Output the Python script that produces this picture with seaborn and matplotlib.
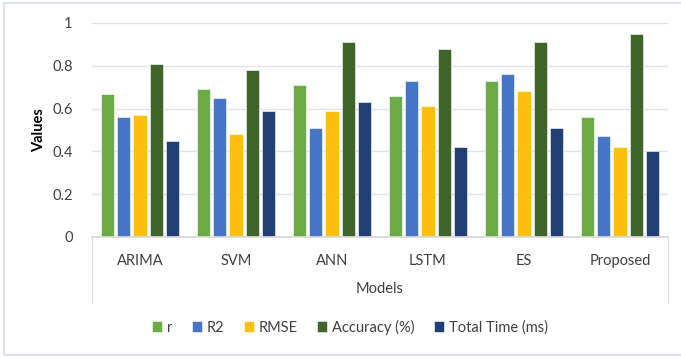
import numpy as np
import pandas as pd
import matplotlib
matplotlib.use("Agg")
import matplotlib.pyplot as plt
import seaborn as sns
from matplotlib.patches import Rectangle

# Data
models = ["ARIMA", "SVM", "ANN", "LSTM", "ES", "Proposed"]
metrics = ["r", "R2", "RMSE", "Accuracy (%)", "Total Time (ms)"]
r_vals = [0.67, 0.69, 0.71, 0.66, 0.73, 0.56]
r2_vals = [0.56, 0.65, 0.51, 0.73, 0.76, 0.47]
rmse_vals = [0.57, 0.48, 0.59, 0.61, 0.68, 0.42]
acc_vals = [0.81, 0.78, 0.91, 0.88, 0.91, 0.95]
time_vals = [0.45, 0.59, 0.63, 0.42, 0.51, 0.40]
colors = ["#6cab45", "#4676c8", "#fdc00f", "#3f6628", "#223f74"]

series = [r_vals, r2_vals, rmse_vals, acc_vals, time_vals]
rows = []
for metric, vals in zip(metrics, series):
    for m, v in zip(models, vals):
        rows.append({"Models": m, "Metric": metric, "Values": v})
df = pd.DataFrame(rows)

sns.set_theme(style="white")
plt.rcParams["font.family"] = ["Lato", "DejaVu Sans"]
text_col = "#404040"

fig = plt.figure(figsize=(6.81, 3.58), dpi=100)
ax = fig.add_axes([92 / 681, 1 - 237 / 358, 576 / 681, 214 / 358])

sns.barplot(data=df, x="Models", y="Values", hue="Metric", order=models,
            hue_order=metrics, palette=colors, saturation=1, width=0.85, gap=0.2,
            edgecolor="white", linewidth=0.4, ax=ax, legend=True)

ax.set_ylim(0, 1)
ax.set_xlim(-0.5, len(models) - 0.5)
ax.set_yticks([0, 0.2, 0.4, 0.6, 0.8, 1.0])
ax.set_yticklabels(["0", "0.2", "0.4", "0.6", "0.8", "1"])
ax.yaxis.grid(True, color="#e3e3e3", linewidth=1.0)
ax.set_axisbelow(True)
for side in ["left", "right", "top"]:
    ax.spines[side].set_visible(False)
ax.spines["bottom"].set_color("#d9d9d9")
ax.tick_params(axis="both", length=0, colors=text_col, labelsize=10.5)
ax.tick_params(axis="x", pad=12)
ax.tick_params(axis="y", pad=14)
ax.set_xlabel("Models", fontsize=10.5, color=text_col, labelpad=10)
ax.set_ylabel("Values", fontsize=10.5, color="black", fontweight="bold", labelpad=4)

# category axis side lines
for xa in [0, 1]:
    ax.plot([xa, xa], [0, -0.31], transform=ax.transAxes, color="#e3e3e3",
            linewidth=1.0, clip_on=False)

handles, labels = ax.get_legend_handles_labels()
ax.legend_.remove()
fig.legend(handles, labels, loc="center", bbox_to_anchor=(350 / 681, 1 - 327 / 358),
           ncol=5, frameon=False, fontsize=10.5, handlelength=0.7, handleheight=0.7,
           handletextpad=0.35, columnspacing=1.3, labelcolor=text_col)

# outer chart border
fig.patches.append(Rectangle((4 / 681, 3 / 358), 1.0, 352 / 358, transform=fig.transFigure,
                             fill=False, edgecolor="#dde1e8", linewidth=1.5))

fig.savefig("out.png", dpi=100)
